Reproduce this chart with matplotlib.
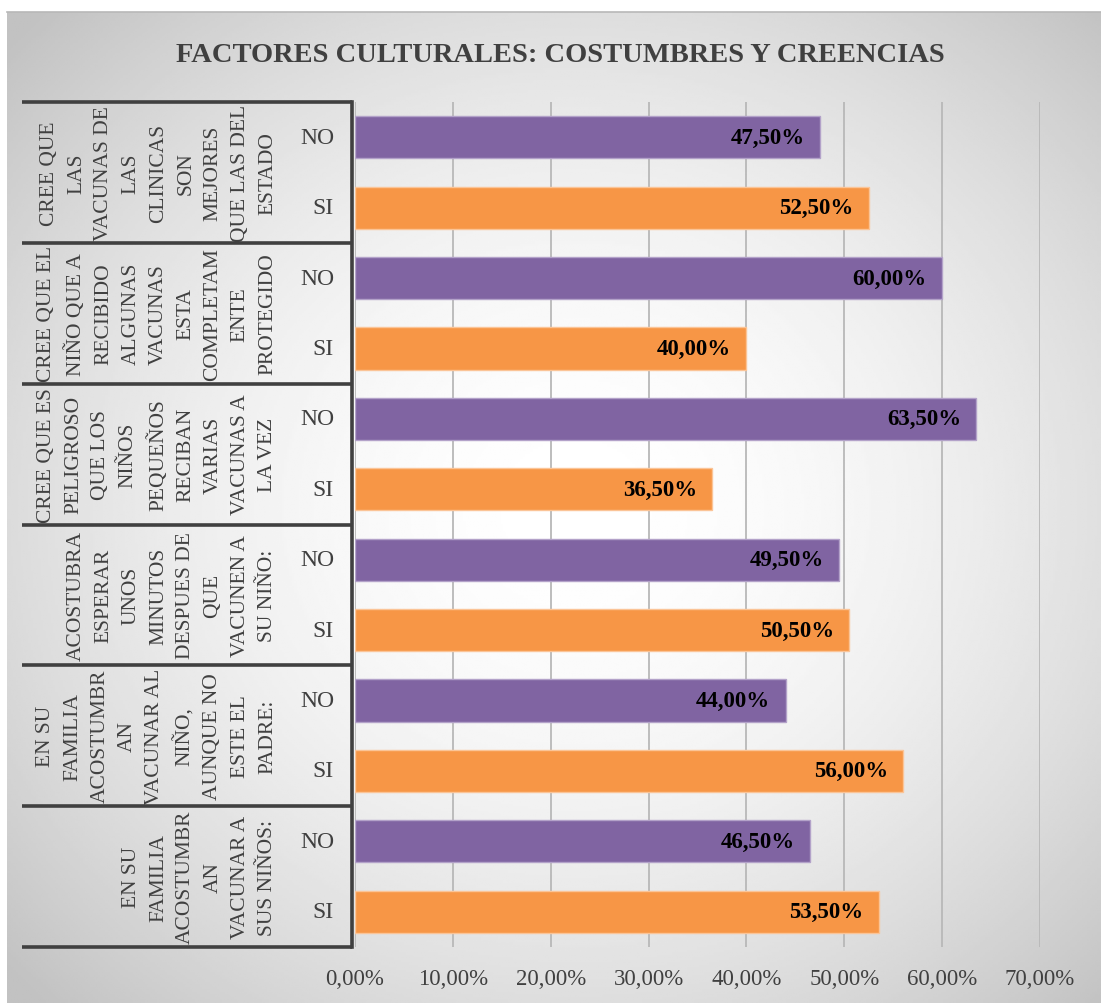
import numpy as np
import matplotlib
matplotlib.use("Agg")
import matplotlib.pyplot as plt
from matplotlib.transforms import blended_transform_factory

plt.rcParams['font.family'] = ['Liberation Serif', 'DejaVu Serif']

# data, groups listed top to bottom
groups = [
    "CREE QUE\nLAS\nVACUNAS DE\nLAS\nCLINICAS\nSON\nMEJORES\nQUE LAS DEL\nESTADO",
    "CREE QUE EL\nNIÑO QUE A\nRECIBIDO\nALGUNAS\nVACUNAS\nESTA\nCOMPLETAM\nENTE\nPROTEGIDO",
    "CREE QUE ES\nPELIGROSO\nQUE LOS\nNIÑOS\nPEQUEÑOS\nRECIBAN\nVARIAS\nVACUNAS A\nLA VEZ",
    "ACOSTUBRA\nESPERAR\nUNOS\nMINUTOS\nDESPUES DE\nQUE\nVACUNEN A\nSU NIÑO:",
    "EN SU\nFAMILIA\nACOSTUMBR\nAN\nVACUNAR AL\nNIÑO,\nAUNQUE NO\nESTE EL\nPADRE:",
    "EN SU\nFAMILIA\nACOSTUMBR\nAN\nVACUNAR A\nSUS NIÑOS:",
]
answers = ["NO", "SI"]
no_vals = [47.50, 60.00, 63.50, 49.50, 44.00, 46.50]
si_vals = [52.50, 40.00, 36.50, 50.50, 56.00, 53.50]
xticks = [0, 10, 20, 30, 40, 50, 60, 70]

W, H = 1101, 1004
fig = plt.figure(figsize=(W / 100, H / 100), dpi=100)

# gradient background (light centre, grey corners)
bg = fig.add_axes([7 / W, 0, 1 - 7 / W, 1 - 13 / H])
yy, xx = np.mgrid[0:1:400j, 0:1:440j]
r = np.sqrt(((xx - 0.52) / 0.7) ** 2 + ((yy - 0.5) / 0.7) ** 2)
img = np.clip(1.0 - 0.24 * r ** 1.8, 0.76, 1.0)
bg.imshow(img, cmap='gray', vmin=0, vmax=1, aspect='auto', extent=[0, 1, 0, 1])
bg.set_axis_off()
fig.add_artist(plt.Line2D([7 / W, 1], [1 - 13 / H, 1 - 13 / H], color='#b8b8b8', linewidth=1.2))

ax = fig.add_axes([355 / W, 1 - 948 / H, (1040 - 355) / W, (948 - 103) / H])
ax.set_facecolor('none')

n = len(groups)
y_no = [2 * i + 0.5 for i in range(n)]
y_si = [2 * i + 1.5 for i in range(n)]

purple = '#8064A2'
orange = '#F79646'
b1 = ax.barh(y_no, no_vals, height=0.6, color=purple, edgecolor='#b3a2c9', linewidth=1, zorder=3)
b2 = ax.barh(y_si, si_vals, height=0.6, color=orange, edgecolor='#fbc497', linewidth=1, zorder=3)

for bars, vals in ((b1, no_vals), (b2, si_vals)):
    for bar, v in zip(bars, vals):
        ax.annotate(f"{v:.2f}%".replace('.', ','),
                    (bar.get_width(), bar.get_y() + bar.get_height() / 2),
                    xytext=(-11, 0), textcoords='offset points',
                    ha='right', va='center', fontsize=16.5, fontweight='bold',
                    color='black', zorder=4)

ax.set_xlim(0, 70)
ax.set_ylim(2 * n, 0)
ax.set_xticks(xticks)
ax.set_xticklabels([f"{t:.2f}%".replace('.', ',') for t in xticks])
ax.tick_params(axis='x', length=0, pad=15, labelsize=16.5, labelcolor='#404040')
ax.set_yticks([])
ax.grid(axis='x', color='#b8b8b8', linewidth=1.3, zorder=1)
for s in ax.spines.values():
    s.set_visible(False)

# category panel
tr = blended_transform_factory(fig.transFigure, ax.transData)
for k in range(n + 1):
    ax.plot([22 / W, 352 / W], [2 * k, 2 * k], transform=tr, color='#404040',
            linewidth=2.6, clip_on=False, solid_capstyle='butt', zorder=5)
ax.plot([352 / W, 352 / W], [0, 2 * n], transform=tr, color='#404040',
        linewidth=2.6, clip_on=False, zorder=5)

for i, g in enumerate(groups):
    ax.text(277 / W, 2 * i + 1, g, transform=tr, rotation=90, ha='right', va='center',
            multialignment='center', fontsize=15.5, linespacing=1.59, color='#404040')
    ax.text(334 / W, y_no[i], answers[0], transform=tr, ha='right', va='center',
            fontsize=17, color='#404040')
    ax.text(334 / W, y_si[i], answers[1], transform=tr, ha='right', va='center',
            fontsize=17, color='#404040')

fig.text(560 / W, 1 - 55 / H, "FACTORES CULTURALES: COSTUMBRES Y CREENCIAS",
         ha='center', va='center', fontsize=20.5, fontweight='bold', color='#404040')

fig.savefig('out.png', dpi=100)
